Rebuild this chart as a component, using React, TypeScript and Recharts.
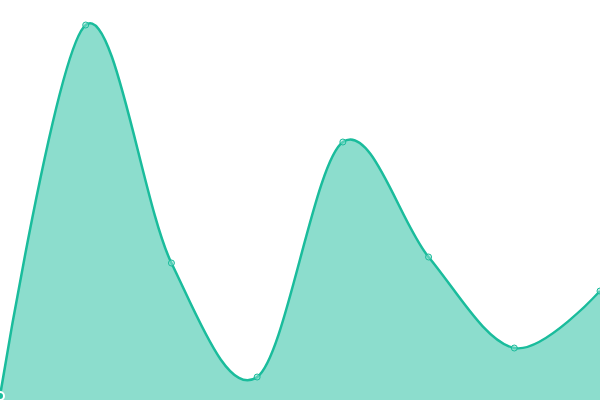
import { AreaChart, Area, XAxis, YAxis } from 'recharts'

const labels = ['A', 'B', 'C', 'D', 'E', 'F', 'G', 'H']
const values = [4, 375, 137, 23, 258, 143, 52, 109]

const data = labels.map((name, i) => ({ name, value: values[i] }))

// cardinal spline, same maths as d3's curveCardinal
class Cardinal {
  _context: any
  _k: number
  _line = NaN
  _point = 0
  _x0 = NaN; _x1 = NaN; _x2 = NaN
  _y0 = NaN; _y1 = NaN; _y2 = NaN
  constructor(context: any, tension: number) {
    this._context = context
    this._k = (1 - tension) / 6
  }
  areaStart() { this._line = 0 }
  areaEnd() { this._line = NaN }
  lineStart() {
    this._x0 = this._x1 = this._x2 = this._y0 = this._y1 = this._y2 = NaN
    this._point = 0
  }
  lineEnd() {
    switch (this._point) {
      case 2: this._context.lineTo(this._x2, this._y2); break
      case 3: this.seg(this._x1, this._y1); break
    }
    if (this._line || (this._line !== 0 && this._point === 1)) this._context.closePath()
    this._line = 1 - this._line
  }
  seg(x: number, y: number) {
    this._context.bezierCurveTo(
      this._x1 + this._k * (this._x2 - this._x0),
      this._y1 + this._k * (this._y2 - this._y0),
      this._x2 + this._k * (this._x1 - x),
      this._y2 + this._k * (this._y1 - y),
      this._x2, this._y2,
    )
  }
  point(x: number, y: number) {
    x = +x; y = +y
    switch (this._point) {
      case 0: this._point = 1; this._line ? this._context.lineTo(x, y) : this._context.moveTo(x, y); break
      case 1: this._point = 2; this._x1 = x; this._y1 = y; break
      case 2: this._point = 3; this.seg(x, y); break
      default: this.seg(x, y); break
    }
    this._x0 = this._x1; this._x1 = this._x2; this._x2 = x
    this._y0 = this._y1; this._y1 = this._y2; this._y2 = y
  }
}

const cardinal = (context: any) => new Cardinal(context, 0)

export default function App() {
  return (
    <div style={{ position: 'absolute', left: 0, top: 0, width: 600, height: 400, background: '#fff' }}>
      <AreaChart width={600} height={400} data={data} margin={{ top: 0, right: 0, left: 0, bottom: 0 }}>
        <XAxis dataKey="name" hide />
        <YAxis domain={[0, 400]} hide />
        <Area
          type={cardinal as any}
          dataKey="value"
          stroke="#1abc9c"
          strokeWidth={2.5}
          fill="#1abc9c"
          fillOpacity={0.5}
          dot={{ r: 3, fill: '#8de0d0', stroke: '#1abc9c', strokeWidth: 1 }}
          isAnimationActive={false}
        />
      </AreaChart>
    </div>
  )
}
